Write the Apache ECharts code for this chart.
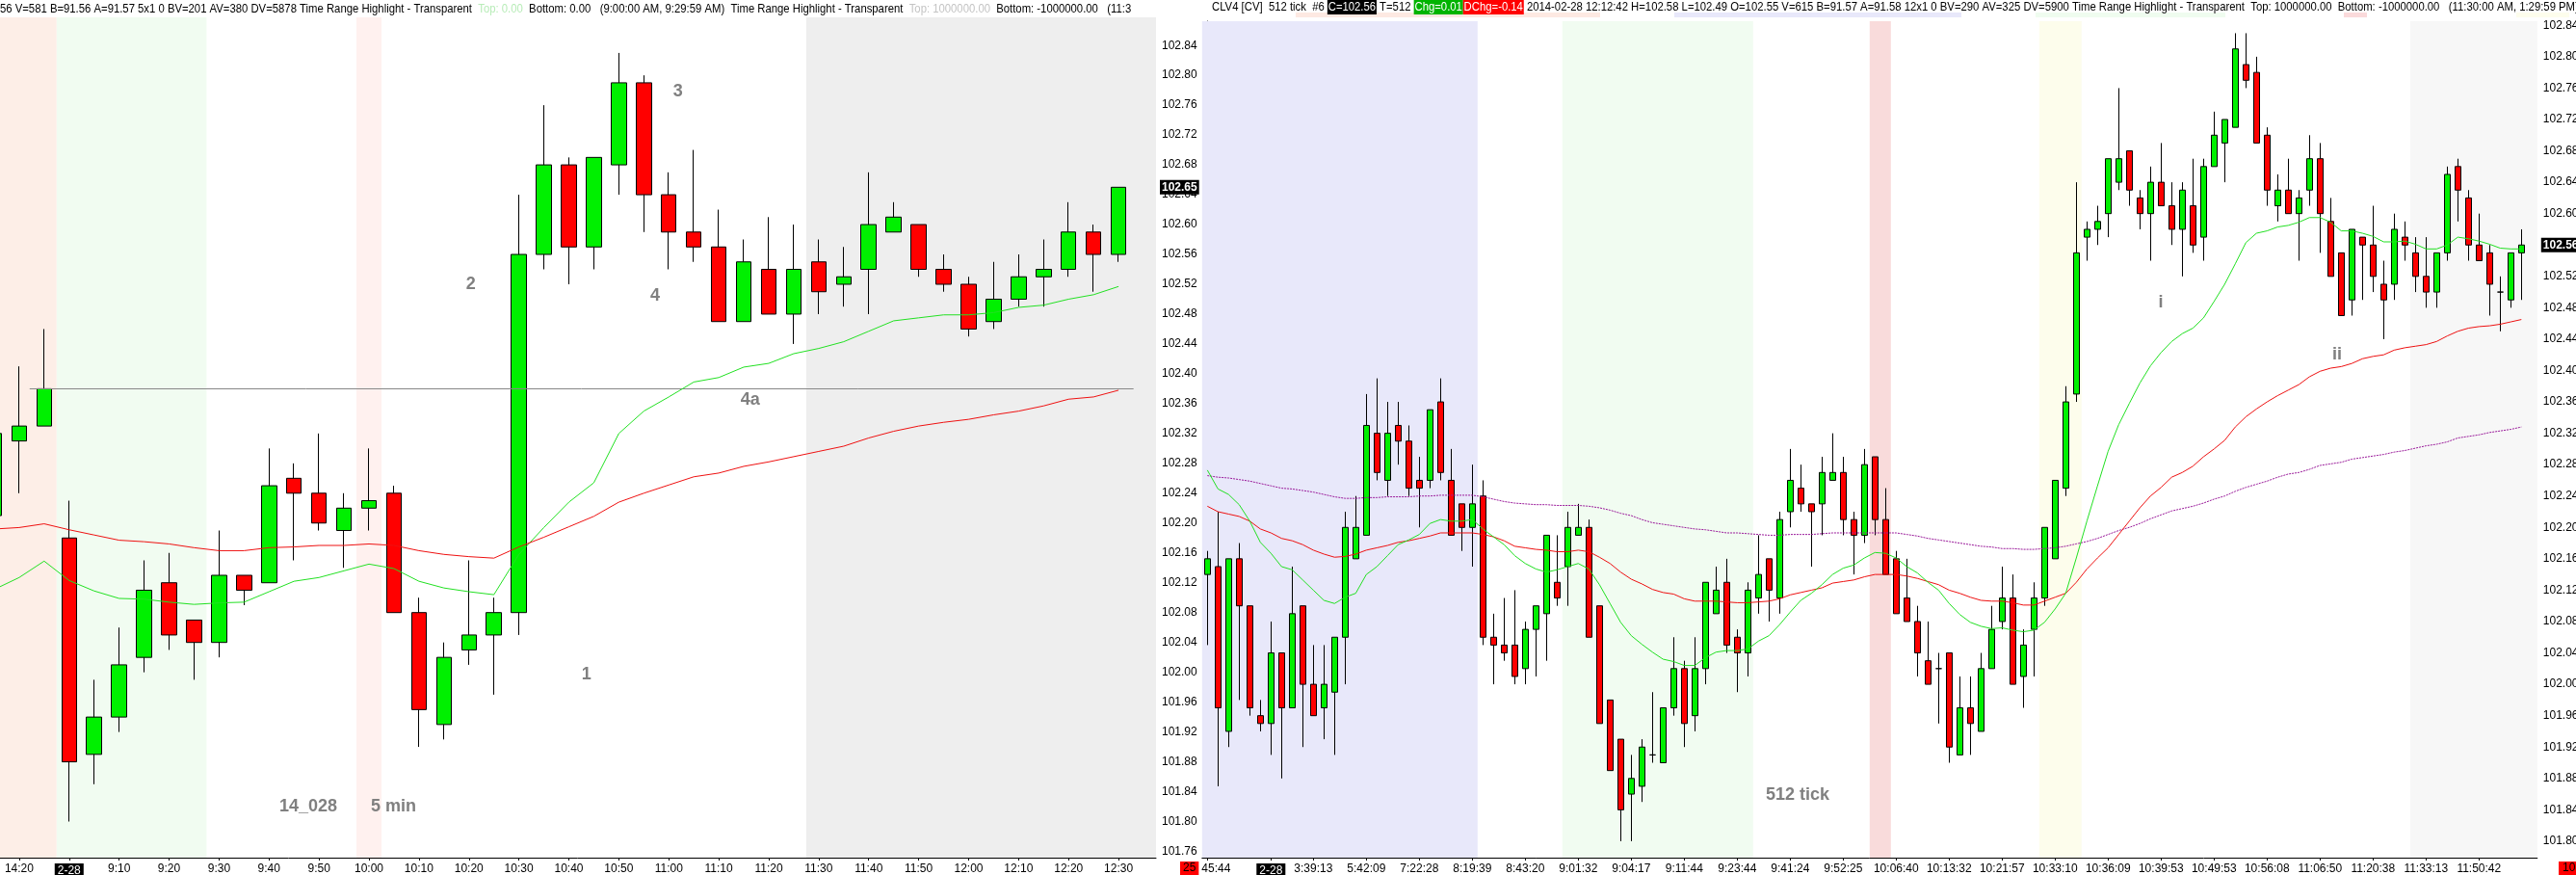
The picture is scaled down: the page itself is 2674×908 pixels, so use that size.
<!DOCTYPE html>
<html><head><meta charset="utf-8">
<script src="https://cdn.jsdelivr.net/npm/echarts@6.0.0/dist/echarts.min.js"></script>
<style>html,body{margin:0;padding:0;background:#fff;}#c{width:2674px;height:908px;}</style>
</head><body><div id="c"></div>
<script>
// ---------------- LEFT PANEL (5 min) ----------------
const leftCats = ['14:15','14:20','14:25','2-28','9:05','9:10','9:15','9:20','9:25','9:30','9:35','9:40','9:45','9:50','9:55','10:00','10:05','10:10','10:15','10:20','10:25','10:30','10:35','10:40','10:45','10:50','10:55','11:00','11:05','11:10','11:15','11:20','11:25','11:30','11:35','11:40','11:45','11:50','11:55','12:00','12:05','12:10','12:15','12:20','12:25','12:30',''];
const leftOpen  = [102.21,102.31,102.33,102.18,101.89,101.94,102.02,102.12,102.07,102.04,102.13,102.12,102.26,102.24,102.19,102.22,102.24,102.08,101.93,102.03,102.05,102.08,102.56,102.68,102.57,102.68,102.79,102.64,102.59,102.57,102.47,102.54,102.48,102.55,102.52,102.54,102.59,102.60,102.54,102.52,102.47,102.50,102.53,102.54,102.59,102.56];
const leftHigh  = [102.33,102.41,102.46,102.23,101.99,102.06,102.15,102.16,102.07,102.19,102.13,102.30,102.28,102.32,102.24,102.30,102.25,102.10,102.04,102.15,102.10,102.64,102.76,102.69,102.69,102.83,102.80,102.67,102.70,102.62,102.58,102.61,102.60,102.58,102.57,102.67,102.63,102.60,102.56,102.53,102.55,102.56,102.58,102.63,102.60,102.65];
const leftLow   = [102.19,102.24,102.33,101.80,101.85,101.92,102.00,102.03,101.99,102.02,102.09,102.12,102.15,102.19,102.14,102.19,102.08,101.90,101.91,102.01,101.97,102.05,102.54,102.52,102.54,102.64,102.59,102.54,102.55,102.47,102.47,102.48,102.44,102.48,102.49,102.48,102.59,102.53,102.51,102.45,102.46,102.49,102.49,102.53,102.51,102.55];
const leftClose = [102.32,102.33,102.38,101.88,101.94,102.01,102.11,102.05,102.04,102.13,102.11,102.25,102.24,102.20,102.22,102.23,102.08,101.95,102.02,102.05,102.08,102.56,102.68,102.57,102.69,102.79,102.64,102.59,102.57,102.47,102.55,102.48,102.54,102.51,102.53,102.60,102.61,102.54,102.52,102.46,102.50,102.53,102.54,102.59,102.56,102.65];
const leftFastMA = [102.111,102.127,102.149,102.123,102.109,102.099,102.098,102.094,102.091,102.093,102.094,102.108,102.122,102.127,102.136,102.145,102.139,102.122,102.113,102.108,102.104,102.158,102.194,102.228,102.254,102.320,102.350,102.369,102.389,102.395,102.409,102.414,102.427,102.434,102.443,102.457,102.471,102.475,102.479,102.479,102.482,102.489,102.492,102.500,102.506,102.517];
const leftSlowMA = [102.192,102.194,102.199,102.191,102.184,102.177,102.175,102.172,102.167,102.163,102.163,102.167,102.168,102.170,102.170,102.172,102.170,102.163,102.158,102.155,102.153,102.168,102.181,102.195,102.209,102.228,102.240,102.251,102.262,102.267,102.276,102.282,102.289,102.296,102.303,102.314,102.323,102.330,102.335,102.339,102.345,102.350,102.357,102.366,102.369,102.378];
const leftPriceTicks = [101.76,101.80,101.84,101.88,101.92,101.96,102.00,102.04,102.08,102.12,102.16,102.20,102.24,102.28,102.32,102.36,102.40,102.44,102.48,102.52,102.56,102.60,102.64,102.68,102.72,102.76,102.80,102.84];
const leftBands = [['14:15','14:25','#fdeee7'],['2-28','9:25','#f1fcf1'],['10:00','10:00','#fff1ef'],['11:30','','#eeeeee']];
const leftRefLine = {price:102.38, fromBar:1.42, toBar:45.6};
const leftNotes = [['1',23.7,101.997],['2',19.08,102.52],['3',27.37,102.778],['4',26.45,102.504],['4a',30.26,102.365],['14_028',12.57,101.82],['5 min',15.98,101.82]];

// ---------------- RIGHT PANEL (512 tick) ----------------
const rightOpen  = [102.14,102.15,101.94,102.16,102.10,101.96,101.95,102.04,101.97,102.10,102.00,101.97,101.99,102.06,102.16,102.19,102.32,102.26,102.33,102.31,102.26,102.26,102.36,102.26,102.23,102.20,102.24,102.06,102.05,102.05,102.02,102.07,102.09,102.13,102.15,102.19,102.20,102.10,101.98,101.93,101.86,101.87,101.91,101.90,101.97,102.02,101.96,102.02,102.09,102.13,102.06,102.04,102.11,102.16,102.11,102.22,102.25,102.23,102.23,102.26,102.27,102.21,102.19,102.29,102.21,102.16,102.11,102.08,102.03,102.02,102.04,101.91,101.97,101.94,102.02,102.08,102.11,102.01,102.07,102.11,102.16,102.25,102.37,102.57,102.58,102.60,102.64,102.68,102.62,102.60,102.64,102.61,102.58,102.61,102.57,102.66,102.69,102.71,102.79,102.78,102.70,102.61,102.63,102.60,102.63,102.67,102.59,102.55,102.49,102.57,102.56,102.51,102.51,102.57,102.55,102.52,102.50,102.55,102.66,102.62,102.56,102.55,102.50,102.49,102.55];
const rightHigh  = [102.17,102.22,102.16,102.18,102.10,101.98,102.08,102.04,102.15,102.10,102.05,102.05,102.06,102.22,102.24,102.37,102.39,102.36,102.36,102.33,102.29,102.35,102.39,102.30,102.23,102.28,102.26,102.09,102.11,102.12,102.08,102.10,102.19,102.19,102.22,102.23,102.21,102.10,101.98,101.93,101.91,101.93,101.99,101.97,102.06,102.03,102.06,102.13,102.15,102.16,102.07,102.13,102.19,102.16,102.22,102.30,102.28,102.23,102.29,102.32,102.29,102.22,102.30,102.29,102.25,102.17,102.16,102.10,102.08,102.04,102.04,102.01,102.01,102.04,102.10,102.15,102.14,102.07,102.13,102.20,102.26,102.38,102.64,102.59,102.61,102.67,102.76,102.68,102.63,102.66,102.69,102.64,102.64,102.67,102.67,102.73,102.72,102.83,102.83,102.80,102.71,102.65,102.67,102.63,102.70,102.69,102.62,102.55,102.58,102.57,102.61,102.54,102.60,102.59,102.57,102.57,102.55,102.66,102.67,102.63,102.60,102.56,102.52,102.55,102.58];
const rightLow   = [102.05,101.87,101.92,101.98,101.96,101.94,101.91,101.88,101.97,101.92,101.96,101.93,101.91,102.00,102.16,102.19,102.26,102.24,102.28,102.24,102.20,102.25,102.26,102.19,102.17,102.15,102.05,102.00,102.03,102.00,102.00,102.01,102.03,102.10,102.10,102.19,102.06,101.95,101.89,101.80,101.80,101.85,101.90,101.90,101.96,101.92,101.94,102.00,102.09,102.04,101.99,102.01,102.09,102.08,102.09,102.20,102.22,102.15,102.19,102.26,102.19,102.14,102.18,102.19,102.14,102.09,102.08,102.01,102.00,101.95,101.90,101.91,101.91,101.94,102.02,102.07,102.00,101.97,102.01,102.10,102.16,102.24,102.36,102.54,102.56,102.57,102.63,102.61,102.58,102.54,102.61,102.56,102.52,102.55,102.54,102.66,102.64,102.71,102.76,102.69,102.61,102.59,102.60,102.54,102.61,102.55,102.52,102.47,102.47,102.49,102.50,102.44,102.49,102.54,102.50,102.48,102.48,102.54,102.59,102.54,102.54,102.47,102.45,102.48,102.49];
const rightClose = [102.16,101.97,102.16,102.10,101.97,101.95,102.04,101.97,102.09,102.00,101.96,102.00,102.06,102.20,102.20,102.33,102.27,102.32,102.31,102.25,102.25,102.35,102.27,102.19,102.20,102.23,102.06,102.05,102.04,102.01,102.07,102.10,102.19,102.11,102.20,102.20,102.06,101.95,101.89,101.84,101.88,101.92,101.91,101.97,102.02,101.95,102.02,102.13,102.12,102.05,102.04,102.12,102.14,102.12,102.21,102.26,102.23,102.22,102.27,102.27,102.21,102.19,102.28,102.21,102.14,102.09,102.08,102.04,102.00,102.02,101.92,101.97,101.95,102.02,102.07,102.11,102.00,102.05,102.11,102.20,102.26,102.36,102.55,102.58,102.59,102.67,102.67,102.63,102.60,102.64,102.61,102.58,102.63,102.56,102.66,102.70,102.72,102.81,102.77,102.69,102.63,102.63,102.60,102.62,102.67,102.60,102.52,102.47,102.58,102.56,102.52,102.49,102.58,102.56,102.52,102.50,102.55,102.65,102.63,102.56,102.54,102.51,102.50,102.55,102.56];
const rightFastMA = [102.273,102.249,102.242,102.229,102.208,102.181,102.167,102.150,102.146,102.133,102.120,102.107,102.103,102.111,102.116,102.140,102.150,102.164,102.178,102.184,102.191,102.205,102.210,102.208,102.208,102.210,102.198,102.188,102.178,102.164,102.154,102.147,102.143,102.146,102.150,102.154,102.147,102.127,102.103,102.079,102.062,102.051,102.041,102.032,102.029,102.024,102.024,102.034,102.041,102.043,102.043,102.045,102.055,102.062,102.076,102.092,102.107,102.116,102.127,102.140,102.148,102.152,102.161,102.168,102.167,102.161,102.150,102.142,102.130,102.120,102.103,102.089,102.079,102.074,102.071,102.072,102.069,102.067,102.069,102.079,102.096,102.116,102.161,102.208,102.253,102.297,102.331,102.358,102.384,102.406,102.423,102.437,102.447,102.454,102.467,102.488,102.510,102.536,102.563,102.575,102.578,102.583,102.585,102.589,102.595,102.595,102.589,102.578,102.578,102.575,102.571,102.564,102.564,102.565,102.561,102.555,102.555,102.560,102.570,102.568,102.565,102.561,102.556,102.555,102.555];
const rightMidMA = [102.227,102.220,102.217,102.214,102.208,102.198,102.193,102.186,102.183,102.178,102.171,102.166,102.162,102.163,102.166,102.171,102.174,102.177,102.181,102.183,102.186,102.189,102.193,102.193,102.193,102.193,102.191,102.188,102.183,102.176,102.174,102.172,102.171,102.169,102.169,102.171,102.169,102.162,102.154,102.143,102.134,102.128,102.121,102.117,102.115,102.109,102.106,102.106,102.106,102.105,102.104,102.104,102.105,102.106,102.109,102.114,102.117,102.120,102.123,102.129,102.131,102.133,102.137,102.140,102.140,102.140,102.138,102.135,102.131,102.127,102.120,102.116,102.111,102.107,102.106,102.106,102.104,102.101,102.101,102.106,102.111,102.116,102.130,102.147,102.161,102.174,102.191,102.208,102.225,102.240,102.251,102.264,102.270,102.278,102.290,102.300,102.311,102.328,102.341,102.351,102.360,102.368,102.375,102.382,102.392,102.399,102.403,102.405,102.409,102.415,102.418,102.420,102.426,102.429,102.431,102.433,102.437,102.444,102.450,102.454,102.456,102.457,102.459,102.462,102.465];
const rightSlowMA = [102.266,102.264,102.263,102.261,102.259,102.256,102.253,102.250,102.249,102.247,102.245,102.242,102.239,102.237,102.237,102.238,102.238,102.239,102.239,102.239,102.240,102.240,102.241,102.241,102.241,102.241,102.239,102.236,102.233,102.231,102.230,102.229,102.229,102.228,102.228,102.228,102.227,102.225,102.222,102.218,102.215,102.210,102.206,102.204,102.202,102.200,102.198,102.197,102.195,102.193,102.193,102.192,102.191,102.190,102.190,102.191,102.191,102.191,102.192,102.193,102.193,102.193,102.193,102.193,102.193,102.193,102.191,102.189,102.186,102.184,102.182,102.180,102.178,102.176,102.175,102.173,102.173,102.172,102.172,102.173,102.174,102.176,102.179,102.182,102.186,102.191,102.196,102.200,102.205,102.211,102.216,102.221,102.224,102.227,102.231,102.236,102.240,102.246,102.251,102.255,102.259,102.264,102.268,102.270,102.274,102.279,102.281,102.283,102.287,102.289,102.291,102.293,102.296,102.298,102.301,102.304,102.306,102.309,102.314,102.316,102.318,102.321,102.323,102.325,102.328];
const rightTimeLabels = [[0,'45:44'],[6,'2-28'],[10,'3:39:13'],[15,'5:42:09'],[20,'7:22:28'],[25,'8:19:39'],[30,'8:43:20'],[35,'9:01:32'],[40,'9:04:17'],[45,'9:11:44'],[50,'9:23:44'],[55,'9:41:24'],[60,'9:52:25'],[65,'10:06:40'],[70,'10:13:32'],[75,'10:21:57'],[80,'10:33:10'],[85,'10:36:09'],[90,'10:39:53'],[95,'10:49:53'],[100,'10:56:08'],[105,'11:06:50'],[110,'11:20:38'],[115,'11:33:13'],[120,'11:50:42']];
const rightPriceTicks = [101.80,101.84,101.88,101.92,101.96,102.00,102.04,102.08,102.12,102.16,102.20,102.24,102.28,102.32,102.36,102.40,102.44,102.48,102.52,102.56,102.60,102.64,102.68,102.72,102.76,102.80,102.84];
const rightBands = [[0,25,'#e8e8fa'],[34,51,'#f1fcf1'],[63,64,'#f9dbdb'],[79,82,'#fdfdec'],[114,125,'#f7f7f7']];
const rightNotes = [['512 tick',55.7,101.859],['i',89.97,102.486],['ii',106.6,102.42]];

// ---------------- BUILD ----------------
const AXF = "'Liberation Sans', Arial, sans-serif";
const HDF = "'Liberation Sans', Arial, sans-serif";
const nRightCats = rightOpen.length + 1;
const rightLabelText = Array.from({length:nRightCats}, () => '');
rightTimeLabels.forEach(([i,t]) => { rightLabelText[i] = t; });
const rightCats = rightLabelText.map((t,i) => String(i));
const ohlc = (o,h,l,c) => o.map((v,i) => [v, c[i], l[i], h[i]]);
const leftBandAreas = leftBands.map(([a,b,col]) => {
  const s = leftCats.indexOf(a), e = leftCats.indexOf(b);
  return [{xAxis: s-0.5, itemStyle:{color:col}}, {xAxis: e+0.5}];
});
const rightBandAreas = rightBands.map(([s,e,col]) => [{xAxis:s-0.5, itemStyle:{color:col}}, {xAxis:e+0.5}]);
const notePoints = arr => arr.map(([t,x,y]) => ({name:t, coord:[x,y]}));
const candleStyle = {color:'#00f000', color0:'#ff0000', borderColor:'#000', borderColor0:'#000', borderColorDoji:'#000', borderWidth:1};
const lastLabel = (v) => ({
  symbol:'none', silent:true, animation:false,
  lineStyle:{color:'rgba(0,0,0,0)', width:0},
  label:{show:true, position:'end', distance:4, formatter: () => v.toFixed(2), backgroundColor:'#000', color:'#fff', fontFamily:AXF, fontSize:12, fontWeight:'bold', padding:[2,2,1,2]},
  data:[{yAxis:v}]
});
const noteLabel = {show:true, position:'inside', formatter:'{b}', color:'#808080', fontSize:18, fontWeight:'bold', fontFamily:AXF};
const xLabelBase = {color:'#000', fontFamily:AXF, fontSize:12, margin:6,
  rich:{d:{backgroundColor:'#000', color:'#fff', padding:[2,3,1,3], fontFamily:AXF, fontSize:12},
        f:{color:'#000', fontFamily:AXF, fontSize:12, padding:[0,0,0,18]}}};
const yAxisBase = (min,max,ticks,gi) => ({
  gridIndex:gi, type:'value', position:'right', min:min, max:max,
  axisLine:{show:true, lineStyle:{color:'#000', width:1}},
  axisTick:{show:true, length:4, lineStyle:{color:'#000'}, customValues:ticks},
  axisLabel:{show:true, color:'#000', fontFamily:AXF, fontSize:12, margin:6, customValues:ticks, formatter:v => Number(v).toFixed(2)},
  splitLine:{show:false}
});
const tok = (name, s) => '{' + name + '|' + s + '}';
const hs = (extra) => Object.assign({fontSize:13, fontFamily:HDF, fill:'#000'}, extra || {});
const leftHeader = tok('n','56 V=581 B=91.56 A=91.57 5x1 0 BV=201 AV=380 DV=5878 Time Range Highlight - Transparent  ') + tok('lg','Top: 0.00') +
  tok('n','  Bottom: 0.00   (9:00:00 AM, 9:29:59 AM)  Time Range Highlight - Transparent  ') + tok('gr','Top: 1000000.00') +
  tok('n','  Bottom: -1000000.00   (11:3');
const rightHeader = tok('n','CLV4 [CV]  512 tick  #6 ') + tok('b','C=102.56') + tok('n',' T=512 ') + tok('g','Chg=0.01') + tok('r','DChg=-0.14') +
  tok('n',' 2014-02-28 12:12:42 H=102.58 L=102.49 O=102.55 V=615 B=91.57 A=91.58 12x1 0 BV=290 AV=325 DV=5900 Time Range Highlight - Transparent  Top: 1000000.00  Bottom: -1000000.00   (11:30:00 AM, 1:29:59 PM)');

const option = {
  animation:false,
  backgroundColor:'#fff',
  textStyle:{fontFamily:AXF},
  grid:[
    {left:-19, top:18, width:1219, height:872, outerBoundsMode:'none', containLabel:false},
    {left:1247.8, top:22, width:1386, height:868, outerBoundsMode:'none', containLabel:false}
  ],
  xAxis:[
    {gridIndex:0, type:'category', data:leftCats, boundaryGap:true,
     axisLine:{show:true, lineStyle:{color:'#000'}},
     axisTick:{show:true, length:3, alignWithLabel:true, interval:(i) => i % 2 === 1, lineStyle:{color:'#000'}},
     axisLabel:Object.assign({}, xLabelBase, {interval:(i) => i % 2 === 1, formatter:(v) => v === '2-28' ? '{d|2-28}' : v}),
     splitLine:{show:false}},
    {gridIndex:1, type:'category', data:rightCats, boundaryGap:true,
     axisLine:{show:true, lineStyle:{color:'#000'}},
     axisTick:{show:true, length:3, alignWithLabel:true, interval:(i) => rightLabelText[i] !== '', lineStyle:{color:'#000'}},
     axisLabel:Object.assign({}, xLabelBase, {interval:(i) => rightLabelText[i] !== '', formatter:(v) => {
        const i = Number(v), t = rightLabelText[i];
        if (t === '2-28') return '{d|2-28}';
        return i === 0 ? '{f|' + t + '}' : t; }}),
     splitLine:{show:false}},
    {gridIndex:0, type:'value', min:-0.5, max:leftCats.length-0.5, show:false},
    {gridIndex:1, type:'value', min:-0.5, max:nRightCats-0.5, show:false}
  ],
  yAxis:[
    yAxisBase(101.7516, 102.8777, leftPriceTicks, 0),
    yAxisBase(101.779, 102.8453, rightPriceTicks, 1)
  ],
  series:[
    {type:'line', xAxisIndex:2, yAxisIndex:0, data:[[-5,102]], showSymbol:false, silent:true, z:0,
     lineStyle:{width:0}, markArea:{silent:true, data:leftBandAreas}},
    {type:'candlestick', name:'L', xAxisIndex:0, yAxisIndex:0, data:ohlc(leftOpen,leftHigh,leftLow,leftClose),
     barWidth:16, itemStyle:candleStyle, z:3, markLine:lastLabel(leftClose[leftClose.length-1])},
    {type:'line', xAxisIndex:0, yAxisIndex:0, data:leftFastMA, symbol:'none', z:5, lineStyle:{color:'#22e022', width:1}},
    {type:'line', xAxisIndex:0, yAxisIndex:0, data:leftSlowMA, symbol:'none', z:5, lineStyle:{color:'#ee1111', width:1}},
    {type:'line', xAxisIndex:2, yAxisIndex:0, data:[[-5,102]], showSymbol:false, silent:true, z:8, lineStyle:{width:0},
     markLine:{silent:true, symbol:['none','none'], label:{show:false}, lineStyle:{color:'#888', width:1, type:'solid'},
       data:[[{coord:[leftRefLine.fromBar, leftRefLine.price]}, {coord:[leftRefLine.toBar, leftRefLine.price]}]]},
     markPoint:{silent:true, symbol:'rect', symbolSize:1, itemStyle:{color:'rgba(0,0,0,0)'}, label:noteLabel, data:notePoints(leftNotes)}},
    {type:'line', xAxisIndex:3, yAxisIndex:1, data:[[-5,102]], showSymbol:false, silent:true, z:0,
     lineStyle:{width:0}, markArea:{silent:true, data:rightBandAreas}},
    {type:'candlestick', name:'R', xAxisIndex:1, yAxisIndex:1, data:ohlc(rightOpen,rightHigh,rightLow,rightClose),
     barWidth:7, itemStyle:candleStyle, z:3, markLine:lastLabel(rightClose[rightClose.length-1])},
    {type:'line', xAxisIndex:1, yAxisIndex:1, data:rightSlowMA, symbol:'none', z:5, lineStyle:{color:'#9a1a9a', width:1, type:[2,1]}},
    {type:'line', xAxisIndex:1, yAxisIndex:1, data:rightMidMA, symbol:'none', z:5, lineStyle:{color:'#ee1111', width:1}},
    {type:'line', xAxisIndex:1, yAxisIndex:1, data:rightFastMA, symbol:'none', z:5, lineStyle:{color:'#22e022', width:1}},
    {type:'line', xAxisIndex:3, yAxisIndex:1, data:[[-5,102]], showSymbol:false, silent:true, z:8, lineStyle:{width:0},
     markPoint:{silent:true, symbol:'rect', symbolSize:1, itemStyle:{color:'rgba(0,0,0,0)'}, label:noteLabel, data:notePoints(rightNotes)}}
  ],
  graphic:[
    {type:'rect', left:1345, top:13, shape:{width:316, height:5}, style:{fill:'#fde9e2'}, silent:true, z:1},
    {type:'rect', left:1738, top:13, shape:{width:298, height:5}, style:{fill:'#e8e8fa'}, silent:true, z:1},
    {type:'rect', left:2113, top:13, shape:{width:197, height:5}, style:{fill:'#effcef'}, silent:true, z:1},
    {type:'rect', left:2433, top:13, shape:{width:24, height:5}, style:{fill:'#fadadb'}, silent:true, z:1},
    {type:'rect', left:2612, top:13, shape:{width:55, height:5}, style:{fill:'#fdfdec'}, silent:true, z:1},
    {type:'text', x:0, y:3, scaleX:0.87, z:10, silent:true, style:{
      text:leftHeader, fontSize:13, fontFamily:HDF, fill:'#000',
      rich:{n:hs(), lg:hs({fill:'#b8ecb8'}), gr:hs({fill:'#c4c4c4'})}}},
    {type:'rect', left:1201, top:0, shape:{width:56, height:17}, style:{fill:'#fff'}, silent:true, z:11},
    {type:'text', x:1258, y:0, scaleX:0.87, z:12, silent:true, style:{
      text:rightHeader, fontSize:13, fontFamily:HDF, fill:'#000',
      rich:{n:hs(),
            b:hs({backgroundColor:'#000', fill:'#fff', padding:[1,1]}),
            g:hs({backgroundColor:'#00b400', fill:'#fff', padding:[1,1]}),
            r:hs({backgroundColor:'#ff0000', fill:'#fff', padding:[1,1]})}}},
    {type:'text', left:1225, top:894, z:12, silent:true, style:{text:'25', font:"12px " + AXF, fill:'#000', backgroundColor:'#ff0000', padding:[1,3]}},
    {type:'text', left:2656, top:894, z:12, silent:true, style:{text:'10', font:"12px " + AXF, fill:'#000', backgroundColor:'#ff0000', padding:[1,4]}}
  ]
};
const chart = echarts.init(document.getElementById('c'), null, {renderer:'canvas'});
chart.setOption(option);
</script></body></html>
